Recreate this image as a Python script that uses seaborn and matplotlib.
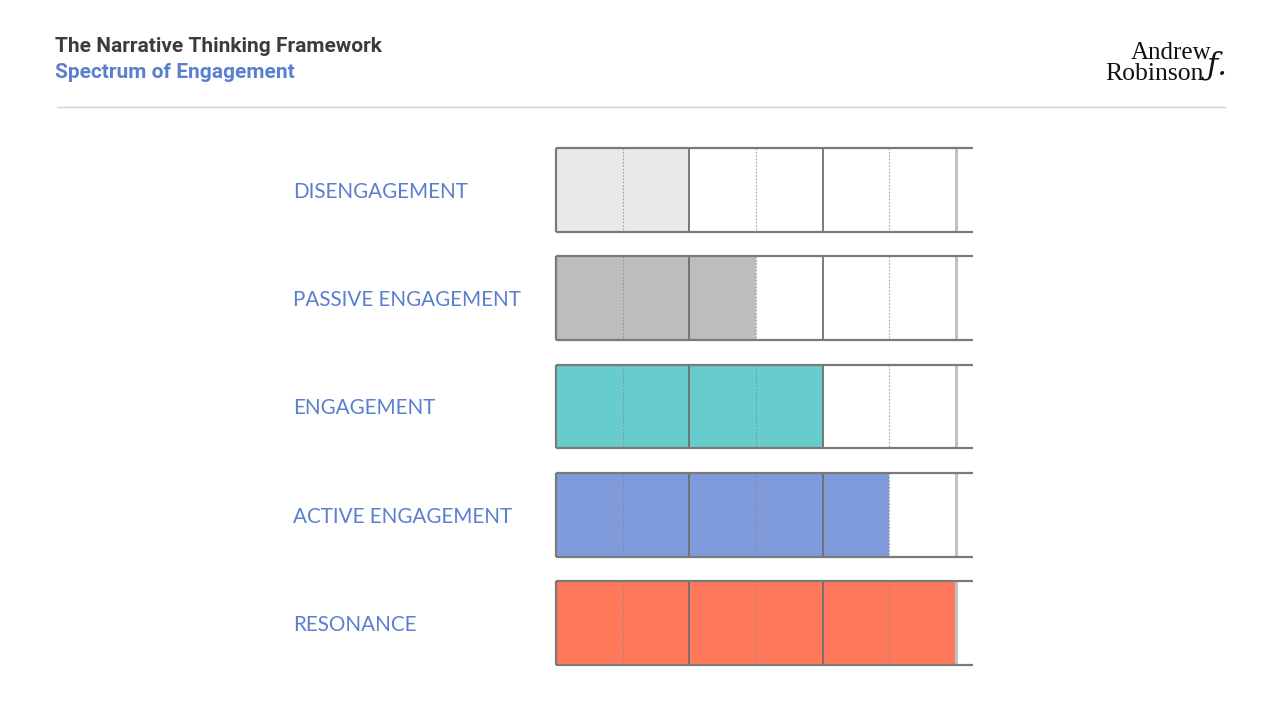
import matplotlib
matplotlib.use("Agg")
import matplotlib.pyplot as plt
import seaborn as sns
import pandas as pd

# ---- data ----
categories = ["DISENGAGEMENT", "PASSIVE ENGAGEMENT", "ENGAGEMENT",
              "ACTIVE ENGAGEMENT", "RESONANCE"]
levels = [2, 3, 4, 5, 6]
colors = ["#e9e9e9", "#bdbdbd", "#66cdcc", "#7f9bdb", "#ff785a"]
max_level = 6

title = "The Narrative Thinking Framework"
subtitle = "Spectrum of Engagement"

sns.set_theme(style="white")
plt.rcParams["font.family"] = ["Lato", "DejaVu Sans"]

df = pd.DataFrame({"category": categories, "level": levels})

fig = plt.figure(figsize=(12.8, 7.2), dpi=100)
fig.patch.set_facecolor("white")

# axes: x 556..973 px, rows centred 190..623 px
ax = fig.add_axes([556 / 1280, 1 - 677.1 / 720, (973 - 556) / 1280, (677.1 - 135.9) / 720])
h = 0.776
sns.barplot(data=df, x="level", y="category", hue="category", palette=colors,
            orient="h", width=h, legend=False, ax=ax, saturation=1, linewidth=0)
xmax = 417 / (400 / 6)
ax.set_xlim(0, xmax)
ax.set_ylim(len(categories) - 0.5, -0.5)

for i in range(len(categories)):
    y0, y1 = i - h / 2, i + h / 2
    # dotted unit lines
    ax.vlines([1, 3, 5], y0, y1, colors="#888888", linestyles=(0, (1.5, 1.5)),
              lw=0.8, alpha=0.75, zorder=3)
    # solid pair lines
    ax.vlines([2, 4], y0, y1, colors="#6e6e6e", lw=1.3, zorder=4)
    ax.vlines([max_level], y0, y1, colors="#c2c2c2", lw=2.2, zorder=4)
    ax.vlines([0], y0, y1, colors="#7a7a7a", lw=1.6, zorder=5, clip_on=False)
    ax.hlines([y0, y1], 0, xmax, colors="#7a7a7a", lw=1.6, zorder=5, clip_on=False)

for s in ax.spines.values():
    s.set_visible(False)
ax.set_xticks([])
ax.set_xlabel("")
ax.set_ylabel("")
ax.tick_params(axis="y", length=0, pad=(556 - 293) * 0.72)
for lab in ax.get_yticklabels():
    lab.set_ha("left")
    lab.set_color("#5b7fcf")
    lab.set_fontsize(14.9)
    lab.set_fontfamily(["Lato", "DejaVu Sans"])

# header
fig.text(55 / 1280, 1 - 46 / 720, title, fontsize=15, fontweight="bold",
         color="#3c3c3c", va="center", ha="left", family=["Roboto", "DejaVu Sans"])
fig.text(55 / 1280, 1 - 73 / 720, subtitle, fontsize=15, fontweight="bold",
         color="#5b7fcf", va="center", ha="left", family=["Roboto", "DejaVu Sans"])
fig.add_artist(plt.Line2D([57 / 1280, 1225 / 1280], [1 - 107 / 720] * 2,
                          color="#d0d0d0", lw=1))

# logo
fig.text(1211 / 1280, 1 - 53 / 720, "Andrew", fontsize=18, color="#111111",
         ha="right", va="center", family=["Liberation Serif", "DejaVu Serif"])
fig.text(1204 / 1280, 1 - 74 / 720, "Robinson", fontsize=18.5, color="#111111",
         ha="right", va="center", family=["Liberation Serif", "DejaVu Serif"])
fig.text(1207 / 1280, 1 - 66 / 720, "\u0192.", fontsize=22, color="#111111",
         ha="left", va="center", style="italic", family=["DejaVu Serif"])

fig.savefig("out.png", dpi=100, facecolor="white")
